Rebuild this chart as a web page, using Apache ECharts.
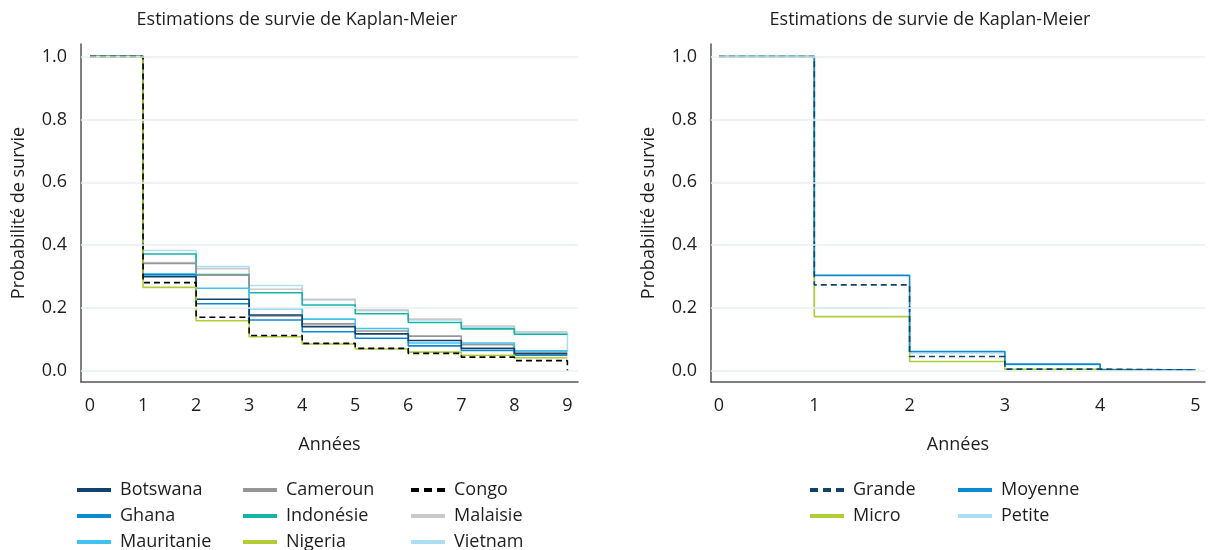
<!DOCTYPE html>
<html>
<head>
<meta charset="utf-8">
<script src="https://cdn.jsdelivr.net/npm/echarts@6/dist/echarts.min.js"></script>
<style>html,body{margin:0;padding:0;background:#fff;}#c{width:1216px;height:550px;}</style>
</head>
<body>
<div id="c"></div>
<script>
// ---- Data ----
const titleText = 'Estimations de survie de Kaplan-Meier';
const xName = 'Années';
const yName = 'Probabilité de survie';
const yTicks = [0, 0.2, 0.4, 0.6, 0.8, 1.0];

// Left panel: by country (survival level from each year on; last value = end point at year 9)
const yearsLeft = [0, 1, 2, 3, 4, 5, 6, 7, 8, 9];
const countries = ['Botswana', 'Cameroun', 'Congo', 'Ghana', 'Indonésie', 'Malaisie', 'Mauritanie', 'Nigeria', 'Vietnam'];
const botswana   = [1, 0.300, 0.228, 0.178, 0.141, 0.118, 0.097, 0.072, 0.055, 0.055];
const cameroun   = [1, 0.342, 0.305, 0.175, 0.150, 0.127, 0.111, 0.084, 0.060, 0.060];
const congo      = [1, 0.281, 0.171, 0.113, 0.088, 0.072, 0.056, 0.044, 0.033, 0.000];
const ghana      = [1, 0.306, 0.214, 0.162, 0.125, 0.104, 0.080, 0.065, 0.050, 0.050];
const indonesie  = [1, 0.372, 0.307, 0.249, 0.210, 0.182, 0.154, 0.134, 0.117, 0.117];
const malaisie   = [1, 0.345, 0.325, 0.260, 0.228, 0.194, 0.165, 0.143, 0.125, 0.125];
const mauritanie = [1, 0.309, 0.263, 0.198, 0.165, 0.135, 0.089, 0.089, 0.064, 0.064];
const nigeria    = [1, 0.266, 0.160, 0.109, 0.086, 0.070, 0.060, 0.050, 0.042, 0.042];
const vietnam    = [1, 0.383, 0.332, 0.272, 0.226, 0.192, 0.162, 0.139, 0.121, 0.062];

// Right panel: by firm size
const yearsRight = [0, 1, 2, 3, 4, 5];
const sizes = ['Grande', 'Moyenne', 'Micro', 'Petite'];
const grande  = [1, 0.274, 0.046, 0.006, 0.003, 0.003];
const moyenne = [1, 0.304, 0.062, 0.022, 0.004, 0.004];
const micro   = [1, 0.173, 0.030, 0.005, 0.003, 0.003];
const petite  = [1, 0.200, 0.057, 0.020, 0.003, 0.003];

const xTicksLeft = [0, 1, 2, 3, 4, 5, 6, 7, 8, 9];
const xTicksRight = [0, 1, 2, 3, 4, 5];

// ---- Styles ----
const FONT = '"Open Sans", Lato, sans-serif';
const FS = 18;
const TXT = '#1e1e1e';
const colors = {
  'Botswana': '#12436d', 'Cameroun': '#969696', 'Congo': '#000000',
  'Ghana': '#0b8ad4', 'Indonésie': '#14b4a6', 'Malaisie': '#c9c9c9',
  'Mauritanie': '#40c2ef', 'Nigeria': '#b0cd36', 'Vietnam': '#acdff6',
  'Grande': '#12436d', 'Moyenne': '#0b8ad4', 'Micro': '#b0cd36', 'Petite': '#acdff6'
};
const dashed = { 'Congo': true, 'Grande': true };

const leftData = {
  'Botswana': botswana, 'Cameroun': cameroun, 'Congo': congo, 'Ghana': ghana,
  'Indonésie': indonesie, 'Malaisie': malaisie, 'Mauritanie': mauritanie,
  'Nigeria': nigeria, 'Vietnam': vietnam
};
const rightData = { 'Grande': grande, 'Moyenne': moyenne, 'Micro': micro, 'Petite': petite };

const leftOrder = ['Vietnam', 'Malaisie', 'Indonésie', 'Cameroun', 'Mauritanie', 'Ghana', 'Botswana', 'Nigeria', 'Congo'];
const rightOrder = ['Petite', 'Micro', 'Moyenne', 'Grande'];

function mkSeries(name, xs, ys, idx) {
  return {
    name: name, type: 'line', step: 'end', xAxisIndex: idx, yAxisIndex: idx,
    symbol: 'none', animation: false, silent: true,
    data: xs.map((x, i) => [x, ys[i]]),
    lineStyle: { color: colors[name], width: 1.6, type: dashed[name] ? [6, 4] : 'solid' },
    itemStyle: { color: colors[name] }
  };
}

const series = [];
leftOrder.forEach(n => series.push(mkSeries(n, yearsLeft, leftData[n], 0)));
rightOrder.forEach(n => series.push(mkSeries(n, yearsRight, rightData[n], 1)));

function xAxis(idx, min, max, ticks) {
  return {
    type: 'value', gridIndex: idx, min: min, max: max,
    name: xName, nameLocation: 'middle', nameGap: 54,
    nameTextStyle: { fontFamily: FONT, fontSize: FS, color: TXT },
    axisLine: { show: true, onZero: false, lineStyle: { color: '#555', width: 1.5 } },
    axisTick: { show: false, customValues: ticks },
    axisLabel: { customValues: ticks, fontFamily: FONT, fontSize: FS, color: TXT, margin: 15 },
    splitLine: { show: false }
  };
}
function yAxis(idx) {
  return {
    type: 'value', gridIndex: idx, min: -0.035, max: 1.04,
    name: yName, nameLocation: 'middle', nameGap: 53,
    nameTextStyle: { fontFamily: FONT, fontSize: FS, color: TXT },
    axisLine: { show: true, onZero: false, lineStyle: { color: '#555', width: 1.5 } },
    axisTick: { show: false, customValues: yTicks },
    axisLabel: { customValues: yTicks, fontFamily: FONT, fontSize: FS, color: TXT, margin: 14,
      formatter: v => v.toFixed(1) },
    splitLine: { show: false }
  };
}

function gridLines(idx, xmin, xmax) {
  return {
    type: 'line', xAxisIndex: idx, yAxisIndex: idx, data: [], silent: true, animation: false,
    markLine: {
      silent: true, symbol: 'none', animation: false,
      label: { show: false },
      lineStyle: { color: '#e9f0f0', width: 1.5, type: 'solid' },
      data: yTicks.map(v => [{ coord: [xmin, v] }, { coord: [xmax, v] }])
    }
  };
}
series.unshift(gridLines(1, -0.084, 5.1));
series.unshift(gridLines(0, -0.17, 9.2));

// legend icons: 34px bar plus an invisible point at x=38 to leave a gap before the text
const ICON_SOLID = 'path://M0,0L34,0L34,4L0,4Z M38,0L38.01,0L38.01,0.01Z';
const ICON_DASH = 'path://M0,0L8,0L8,4L0,4Z M13,0L21,0L21,4L13,4Z M26,0L34,0L34,4L26,4Z M38,0L38.01,0L38.01,0.01Z';

function legend(left, top, names) {
  return {
    orient: 'vertical', left: left, top: top, height: 80, padding: 0,
    data: names.map(n => ({ name: n, icon: dashed[n] ? ICON_DASH : ICON_SOLID })),
    itemWidth: 38, itemHeight: 4, itemGap: 8,
    textStyle: { fontFamily: FONT, fontSize: FS, color: TXT, lineHeight: 14 },
    selectedMode: false
  };
}

const option = {
  backgroundColor: '#fff',
  animation: false,
  title: [
    { text: titleText, left: 292, top: 6, textAlign: 'center',
      textStyle: { fontFamily: FONT, fontSize: FS, fontWeight: 'normal', color: TXT } },
    { text: titleText, left: 925, top: 6, textAlign: 'center',
      textStyle: { fontFamily: FONT, fontSize: FS, fontWeight: 'normal', color: TXT } }
  ],
  grid: [
    { left: 81, right: 638, top: 44, bottom: 168 },
    { left: 711, right: 11, top: 44, bottom: 168 }
  ],
  xAxis: [xAxis(0, -0.17, 9.2, xTicksLeft), xAxis(1, -0.084, 5.1, xTicksRight)],
  yAxis: [yAxis(0), yAxis(1)],
  legend: [
    legend(77, 481, [countries[0], countries[3], countries[6]]),
    legend(243, 481, [countries[1], countries[4], countries[7]]),
    legend(411, 481, [countries[2], countries[5], countries[8]]),
    legend(810, 481, [sizes[0], sizes[2]]),
    legend(958, 481, [sizes[1], sizes[3]])
  ],
  series: series
};

const chart = echarts.init(document.getElementById('c'), null, { renderer: 'canvas' });
chart.setOption(option);
</script>
</body>
</html>
